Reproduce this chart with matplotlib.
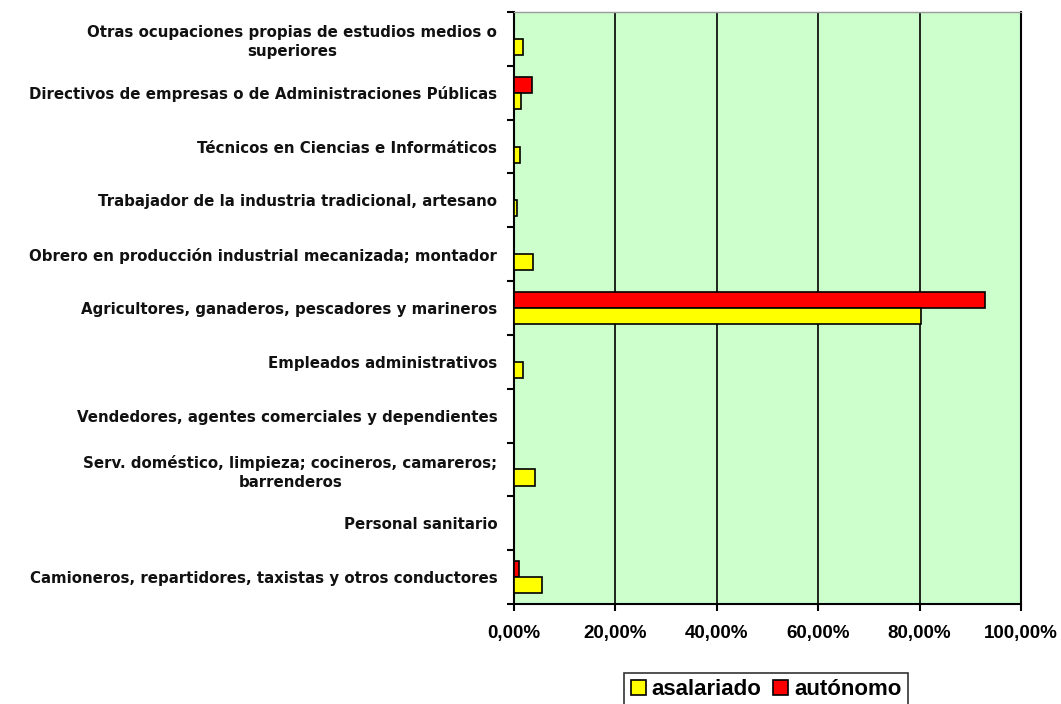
import matplotlib.pyplot as plt
import numpy as np
from matplotlib.ticker import FuncFormatter

# categorías, de abajo hacia arriba
categorias = [
    'Camioneros, repartidores, taxistas y otros conductores',
    'Personal sanitario',
    'Serv. doméstico, limpieza; cocineros, camareros;\nbarrenderos',
    'Vendedores, agentes comerciales y dependientes',
    'Empleados administrativos',
    'Agricultores, ganaderos, pescadores y marineros',
    'Obrero en producción industrial mecanizada; montador',
    'Trabajador de la industria tradicional, artesano',
    'Técnicos en Ciencias e Informáticos',
    'Directivos de empresas o de Administraciones Públicas',
    'Otras ocupaciones propias de estudios medios o\nsuperiores',
]
asalariado = [5.5, 0.0, 4.1, 0.0, 1.8, 80.2, 3.8, 0.7, 1.1, 1.4, 1.7]
autonomo = [1.0, 0.0, 0.0, 0.0, 0.0, 92.9, 0.0, 0.0, 0.0, 3.5, 0.0]
xticks = [0, 20, 40, 60, 80, 100]

plt.rcParams['font.family'] = ['Liberation Sans', 'DejaVu Sans']
plt.rcParams['font.weight'] = 'bold'

fig = plt.figure(figsize=(10.61, 7.04), dpi=100)
ax = fig.add_axes([0.4844, 0.142, 0.4779, 0.841])
ax.set_facecolor('#CCFFCC')

y = np.arange(len(categorias))
h = 0.3
ax.barh(y + h / 2, autonomo, height=h, color='#FF0000', edgecolor='black', linewidth=1.2, label='autónomo', zorder=3)
ax.barh(y - h / 2, asalariado, height=h, color='#FFFF00', edgecolor='black', linewidth=1.2, label='asalariado', zorder=3)

ax.set_xlim(0, 100)
ax.set_ylim(-0.5, len(categorias) - 0.5)
ax.set_xticks(xticks)
ax.xaxis.set_major_formatter(FuncFormatter(lambda v, p: f'{v:.2f}%'.replace('.', ',')))
ax.grid(axis='x', color='black', linewidth=1.2, zorder=1)

ax.set_yticks(y)
ax.set_yticklabels(categorias, fontsize=10.8, fontweight='bold', multialignment='center',
                   family='DejaVu Sans', color='#111111', linespacing=1.3)
ax.set_yticks(np.arange(len(categorias) + 1) - 0.5, minor=True)
ax.tick_params(axis='y', which='major', length=0, pad=12)
ax.tick_params(axis='y', which='minor', length=5, width=1.5, direction='out')
ax.tick_params(axis='x', length=5, width=1.5, labelsize=13.5, pad=10)
for lbl in ax.get_xticklabels():
    lbl.set_fontweight('bold')

ax.spines['top'].set_color('#999999')
ax.spines['top'].set_linewidth(1)
ax.spines['right'].set_linewidth(1.5)
ax.spines['left'].set_linewidth(1.5)
ax.spines['bottom'].set_linewidth(1.5)

handles, labels = ax.get_legend_handles_labels()
leg = fig.legend(handles[::-1], labels[::-1], loc='center', bbox_to_anchor=(0.722, 0.02), ncol=2,
                 frameon=True, fancybox=False, edgecolor='black', handlelength=0.7, handleheight=0.7,
                 handletextpad=0.25, columnspacing=0.5, borderpad=0.3,
                 prop={'size': 16, 'weight': 'bold'})
leg.get_frame().set_linewidth(1.2)

plt.savefig('out.png', dpi=100)
